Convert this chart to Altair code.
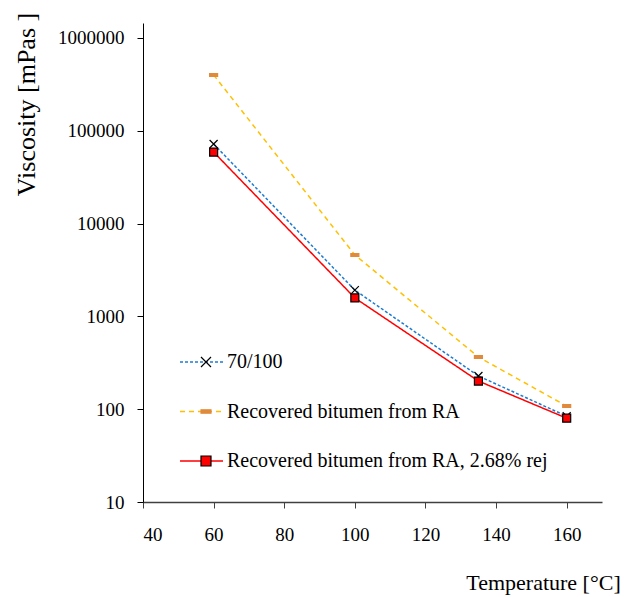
import altair as alt
import pandas as pd

temperature = [60, 100, 135, 160]
visc_7010 = [72000, 1920, 228, 84]
visc_ra = [400000, 4600, 365, 108]
visc_ra_rej = [59000, 1580, 201, 80]

series_names = ["70/100", "Recovered bitumen from RA", "Recovered bitumen from RA, 2.68% rej"]
line_colors = ["#1F7BD1", "#FFC000", "#FF0000"]
line_dashes = [[3, 2], [5, 4], [1, 0]]
marker_shapes = ["M-1,-1L1,1M-1,1L1,-1", "M-1,-0.35L1,-0.35L1,0.35L-1,0.35Z", "square"]
marker_fills = ["#000000", "#E08A3C", "#FF0000"]
marker_strokes = ["#000000", "#E08A3C", "#000000"]

rows = []
for name, vals in zip(series_names, [visc_7010, visc_ra, visc_ra_rej]):
    for t, v in zip(temperature, vals):
        rows.append({"T": t, "V": v, "series": name, "series_m": name})
df = pd.DataFrame(rows)

FONT = "Liberation Serif"

x_enc = alt.X("T:Q", scale=alt.Scale(domain=[40, 170], nice=False),
              axis=alt.Axis(values=[40, 60, 80, 100, 120, 140, 160], title="Temperature [°C]",
                            titleX=400, titleY=80, titleAlign="center", titleBaseline="middle",
                            titleFontSize=22, titleFontWeight="normal", titleFont=FONT,
                            labelFont=FONT, labelFontSize=19, labelPadding=17,
                            tickSize=6, tickColor="#404040", domainColor="#404040",
                            domainWidth=1.5, labelColor="#000000", titleColor="#000000",
                            grid=False))
y_enc = alt.Y("V:Q", scale=alt.Scale(type="log", domain=[10, 1450000], nice=False),
              axis=alt.Axis(values=[10, 100, 1000, 10000, 100000, 1000000], format="d",
                            title="Viscosity [mPas ]",
                            titleX=-117, titleY=81, titleAlign="center", titleBaseline="middle",
                            titleAngle=-90,
                            titleFontSize=26, titleFontWeight="normal", titleFont=FONT,
                            labelFont=FONT, labelFontSize=19, labelPadding=13,
                            tickSize=6, tickColor="#000000", domainColor="#000000",
                            labelColor="#000000", titleColor="#000000", grid=False))

lines = alt.Chart(df).mark_line(strokeWidth=1.5).encode(
    x=x_enc, y=y_enc,
    color=alt.Color("series:N", scale=alt.Scale(domain=series_names, range=line_colors),
                    legend=alt.Legend(orient="none", legendX=36, legendY=329, title=None,
                                      symbolType="stroke", symbolSize=1849, symbolStrokeWidth=1.5,
                                      clipHeight=20, rowPadding=29.5, labelOffset=3,
                                      labelFont=FONT, labelFontSize=20, labelColor="#000000",
                                      labelLimit=400)),
    strokeDash=alt.StrokeDash("series:N", scale=alt.Scale(domain=series_names, range=line_dashes),
                              legend=alt.Legend(orient="none", legendX=36, legendY=329, title=None,
                                                symbolType="stroke", symbolSize=1849,
                                                clipHeight=20, rowPadding=29.5, labelOffset=3,
                                                labelFont=FONT, labelFontSize=20,
                                                labelLimit=400)),
)

mleg = alt.Legend(orient="none", legendX=53, legendY=329, title=None,
                  clipHeight=20, rowPadding=29.5, labelOffset=3,
                  labelFont=FONT, labelFontSize=20, labelExpr="''", labelLimit=400,
                  symbolStrokeWidth=1.2)

points = alt.Chart(df).mark_point(filled=True, size=64, strokeWidth=1.2, opacity=1).encode(
    x=alt.X("T:Q"), y=alt.Y("V:Q"),
    shape=alt.Shape("series_m:N", scale=alt.Scale(range=marker_shapes), legend=mleg),
    fill=alt.Fill("series_m:N", scale=alt.Scale(range=marker_fills), legend=mleg),
    stroke=alt.Stroke("series_m:N", scale=alt.Scale(range=marker_strokes), legend=mleg),
)

chart = alt.layer(lines, points).properties(
    width=459, height=479,
    padding={"left": 143, "top": 23, "right": 41, "bottom": 95},
    autosize=alt.AutoSizeParams(type="none"),
    background="white",
).configure_view(stroke=None)

chart.save("out.html", embed_options={"renderer": "svg", "actions": False})
